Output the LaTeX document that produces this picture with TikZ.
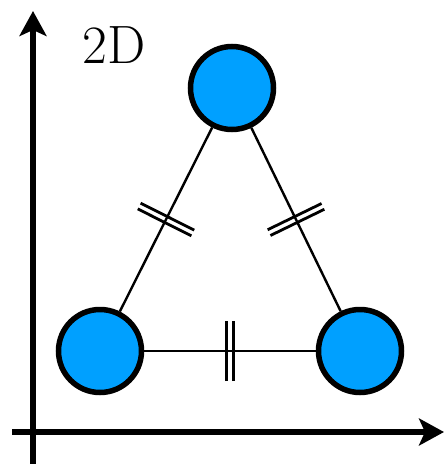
\documentclass[tikz,border=0pt]{standalone}
\usetikzlibrary{arrows.meta,decorations.markings}
\definecolor{ballblue}{RGB}{0,160,255}
\begin{document}
\begin{tikzpicture}[x=1pt,y=-1pt,
  ball/.style={circle,draw=black,line width=5.5pt,fill=ballblue,minimum size=83pt,inner sep=0pt},
  axis/.style={line width=5.3pt,-{Stealth[length=25pt,width=27pt,inset=6pt]}},
  bond/.style={line width=2.4pt,postaction={decorate},
    decoration={markings,mark=at position 0.5 with {
      \draw[line width=2.8pt] (-3.2pt,-30pt)--(-3.2pt,30pt) (3.2pt,-30pt)--(3.2pt,30pt);}}}]
\useasboundingbox (0,0) rectangle (444,464);
\coordinate (yb) at (33,464);
\coordinate (yt) at (33,11);
\coordinate (xl) at (12,432);
\coordinate (xr) at (444,432);
\draw[axis] (yb) -- (yt);
\draw[axis] (xl) -- (xr);
\node[ball] (t) at (232,88) {};
\node[ball] (l) at (100,351) {};
\node[ball] (r) at (360,351) {};
\draw[bond] (l) -- (t);
\draw[bond] (r) -- (t);
\draw[bond] (l) -- (r);
\node[font=\fontsize{54}{56}\selectfont] (lab) at (114,45) {2D};
\end{tikzpicture}
\end{document}
